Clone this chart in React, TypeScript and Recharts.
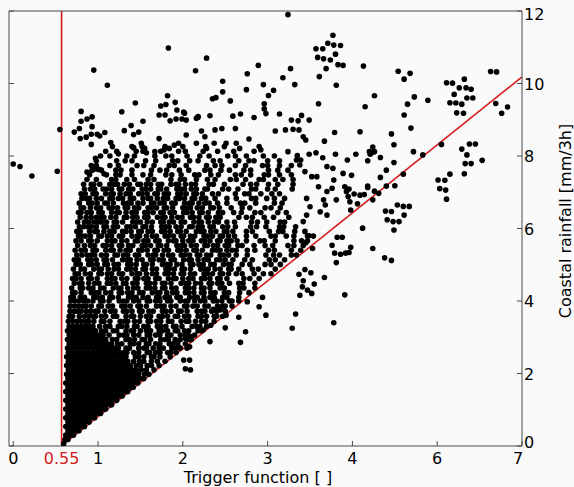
import React from 'react';
import { ScatterChart, Scatter, XAxis, YAxis, ReferenceLine, Label } from 'recharts';

type Row = [number, number[]];

const X_TICKS = [0, 0.57, 1, 2, 3, 4, 5, 6];
const X_TICK_LABELS = ['0', '0.55', '1', '2', '3', '4', '6', '7'];
const X_FRAME_TICKS = [0, 1, 2, 3, 4, 5, 6];
const Y_TICKS = [0, 2, 4, 6, 8, 10, 12];
const THRESHOLD_X = 0.57;
const TREND_END: [number, number] = [6, 10.18];
const X_LABEL = 'Trigger function [ ]';
const Y_LABEL = 'Coastal rainfall [mm/3h]';

// saturated wedge near the apex: [rainfall, trigger values...]
const apexRows: Row[] = [
  [0.06, [0.595]],
  [0.18, [0.61, 0.645]],
  [0.3, [0.62, 0.67, 0.71]],
  [0.42, [0.645, 0.695, 0.745, 0.775]],
  [0.54, [0.62, 0.67, 0.72, 0.77, 0.82, 0.84]],
  [0.66, [0.645, 0.695, 0.745, 0.795, 0.845, 0.895]],
  [0.78, [0.62, 0.67, 0.72, 0.77, 0.82, 0.87, 0.92, 0.96]],
  [0.9, [0.645, 0.695, 0.745, 0.795, 0.845, 0.895, 0.945, 0.995, 1.03]],
  [1.02, [0.62, 0.67, 0.72, 0.77, 0.82, 0.87, 0.92, 0.97, 1.02, 1.07, 1.09]],
  [1.14, [0.645, 0.695, 0.745, 0.795, 0.845, 0.895, 0.945, 0.995, 1.045, 1.095, 1.145, 1.16]],
  [1.26, [0.62, 0.67, 0.72, 0.77, 0.82, 0.87, 0.92, 0.97, 1.02, 1.07, 1.12, 1.17, 1.22]],
  [1.38, [0.645, 0.695, 0.745, 0.795, 0.845, 0.895, 0.945, 0.995, 1.045, 1.095, 1.145, 1.195, 1.245, 1.285]],
  [1.5, [0.62, 0.67, 0.72, 0.77, 0.82, 0.87, 0.92, 0.97, 1.02, 1.07, 1.12, 1.17, 1.22, 1.27, 1.32, 1.35]],
  [1.62, [0.645, 0.695, 0.745, 0.795, 0.845, 0.895, 0.945, 0.995, 1.045, 1.095, 1.145, 1.195, 1.245, 1.295, 1.345, 1.395, 1.415]],
  [1.74, [0.62, 0.67, 0.72, 0.77, 0.82, 0.87, 0.92, 0.97, 1.02, 1.07, 1.12, 1.17, 1.22, 1.27, 1.32, 1.37, 1.42, 1.47]],
  [1.86, [0.645, 0.695, 0.745, 0.795, 0.845, 0.895, 0.945, 0.995, 1.045, 1.095, 1.145, 1.195, 1.245, 1.295, 1.345, 1.395, 1.445, 1.495, 1.54]],
  [1.98, [0.63, 0.68, 0.73, 0.78, 0.83, 0.88, 0.93, 0.98, 1.03, 1.08, 1.13, 1.18, 1.23, 1.28, 1.33, 1.38, 1.43, 1.48, 1.55, 1.6]],
  [2.1, [0.65, 0.7, 0.75, 0.8, 0.85, 0.9, 0.95, 1.0, 1.05, 1.1, 1.15, 1.2, 1.25, 1.3, 1.35, 1.4, 1.45, 1.51, 1.57, 1.66]],
  [2.22, [0.63, 0.68, 0.73, 0.78, 0.83, 0.88, 0.93, 0.98, 1.03, 1.08, 1.13, 1.18, 1.23, 1.28, 1.33, 1.38, 1.45, 1.5, 1.58, 1.63, 1.72]],
  [2.34, [0.65, 0.7, 0.75, 0.8, 0.85, 0.9, 0.95, 1.0, 1.05, 1.1, 1.15, 1.2, 1.25, 1.3, 1.35, 1.42, 1.49, 1.54, 1.63, 1.7, 1.79]],
];

// dense band between rainfall 2.5 and 4
const bandRows: Row[] = [
  [2.46, [0.63, 0.68, 0.73, 0.78, 0.83, 0.88, 0.93, 0.98, 1.03, 1.08, 1.13, 1.18, 1.23, 1.28, 1.33, 1.44, 1.48, 1.54, 1.63, 1.66, 1.73, 1.85]],
  [2.58, [0.65, 0.7, 0.75, 0.8, 0.85, 0.9, 0.95, 1.0, 1.05, 1.1, 1.15, 1.2, 1.25, 1.3, 1.34, 1.42, 1.48, 1.58, 1.61, 1.68, 1.73, 1.82, 1.86, 1.92]],
  [2.7, [0.64, 0.69, 0.74, 0.79, 0.84, 0.89, 0.94, 0.99, 1.04, 1.09, 1.14, 1.19, 1.24, 1.33, 1.37, 1.48, 1.54, 1.57, 1.65, 1.72, 1.77, 1.87, 1.91, 1.97]],
  [2.82, [0.66, 0.71, 0.76, 0.81, 0.86, 0.91, 0.96, 1.01, 1.06, 1.11, 1.16, 1.23, 1.28, 1.38, 1.42, 1.48, 1.57, 1.6, 1.68, 1.73, 1.84, 1.88, 1.94, 2.03]],
  [2.94, [0.64, 0.69, 0.74, 0.79, 0.84, 0.89, 0.94, 0.99, 1.04, 1.09, 1.17, 1.22, 1.33, 1.37, 1.43, 1.52, 1.55, 1.62, 1.74, 1.79, 1.83, 1.91, 1.97, 2.07, 2.1]],
  [3.06, [0.66, 0.71, 0.76, 0.81, 0.86, 0.91, 0.96, 1.01, 1.06, 1.13, 1.25, 1.3, 1.34, 1.42, 1.48, 1.58, 1.61, 1.68, 1.73, 1.82, 1.86, 1.97, 2.03, 2.06, 2.14]],
  [3.18, [0.64, 0.69, 0.74, 0.79, 0.84, 0.89, 0.94, 0.97, 1.04, 1.09, 1.18, 1.22, 1.33, 1.39, 1.42, 1.5, 1.57, 1.62, 1.72, 1.76, 1.82, 1.91, 1.94, 2.02, 2.07, 2.18, 2.22]],
  [3.3, [0.66, 0.71, 0.76, 0.81, 0.86, 0.91, 0.94, 1.02, 1.09, 1.14, 1.24, 1.28, 1.34, 1.43, 1.46, 1.54, 1.59, 1.7, 1.74, 1.8, 1.89, 1.92, 1.99, 2.11, 2.16, 2.2, 2.28]],
  [3.44, [0.65, 0.7, 0.75, 0.8, 0.85, 0.89, 0.95, 1.04, 1.07, 1.14, 1.26, 1.31, 1.35, 1.43, 1.49, 1.59, 1.62, 1.69, 1.74, 1.83, 1.87, 1.98, 2.04, 2.07, 2.15, 2.22, 2.27, 2.37]],
  [3.58, [0.66, 0.7, 0.78, 0.84, 0.89, 0.94, 0.97, 1.04, 1.09, 1.18, 1.22, 1.33, 1.39, 1.42, 1.5, 1.57, 1.62, 1.72, 1.76, 1.82, 1.91, 1.94, 2.02, 2.07, 2.18, 2.22, 2.28, 2.37, 2.4, 2.47]],
  [3.72, [0.67, 0.72, 0.76, 0.8, 0.86, 0.91, 0.97, 1.0, 1.08, 1.15, 1.2, 1.3, 1.34, 1.4, 1.49, 1.52, 1.6, 1.65, 1.76, 1.8, 1.86, 1.95, 1.98, 2.05, 2.17, 2.22, 2.26, 2.34, 2.4, 2.5]],
  [3.86, [0.67, 0.72, 0.77, 0.82, 0.86, 0.92, 1.01, 1.04, 1.12, 1.17, 1.28, 1.32, 1.38, 1.47, 1.5, 1.57, 1.69, 1.74, 1.78, 1.86, 1.92, 2.02, 2.05, 2.12, 2.17, 2.26, 2.3, 2.41, 2.47, 2.5, 2.58]],
  [4.0, [0.68, 0.73, 0.78, 0.84, 0.88, 0.94, 1.03, 1.06, 1.13, 1.25, 1.3, 1.34, 1.42, 1.48, 1.58, 1.61, 1.68, 1.73, 1.82, 1.86, 1.97, 2.03, 2.06, 2.14, 2.21, 2.26, 2.36, 2.4, 2.46, 2.55, 2.58, 2.66]],
];

// main cloud between rainfall 4 and 8.3
const coreRows: Row[] = [
  [4.1, [0.68, 0.71, 0.79, 0.84, 0.95, 0.99, 1.05, 1.14, 1.17, 1.24, 1.36, 1.41, 1.45, 1.53, 1.59, 1.69, 1.72, 1.79, 1.84, 1.93, 1.97, 2.08, 2.14, 2.17, 2.25, 2.32, 2.37, 2.47, 2.52, 2.66]],
  [4.23, [0.7, 0.73, 0.8, 0.92, 0.97, 1.01, 1.09, 1.15, 1.25, 1.28, 1.35, 1.4, 1.49, 1.53, 1.64, 1.7, 1.73, 1.81, 1.88, 1.93, 2.03, 2.07, 2.13, 2.22, 2.25, 2.33, 2.38, 2.49, 2.54, 2.67, 2.78]],
  [4.36, [0.69, 0.79, 0.82, 0.89, 0.94, 1.03, 1.07, 1.18, 1.24, 1.27, 1.35, 1.42, 1.47, 1.57, 1.61, 1.67, 1.76, 1.79, 1.87, 1.92, 2.03, 2.07, 2.13, 2.22, 2.25, 2.32, 2.44, 2.49, 2.67, 2.72, 2.85]],
  [4.49, [0.72, 0.78, 0.81, 0.89, 0.96, 1.01, 1.11, 1.15, 1.21, 1.3, 1.33, 1.41, 1.46, 1.57, 1.61, 1.67, 1.76, 1.79, 1.86, 1.98, 2.03, 2.07, 2.15, 2.21, 2.31, 2.34, 2.41, 2.46, 2.55, 2.66, 2.71, 2.85]],
  [4.62, [0.7, 0.74, 0.8, 0.89, 0.92, 0.99, 1.11, 1.16, 1.2, 1.28, 1.34, 1.44, 1.47, 1.54, 1.59, 1.68, 1.72, 1.83, 1.89, 1.92, 2.0, 2.07, 2.12, 2.22, 2.26, 2.32, 2.41, 2.44, 2.52, 2.72, 2.79, 2.9]],
  [4.75, [0.73, 0.77, 0.85, 0.91, 1.01, 1.04, 1.11, 1.16, 1.25, 1.29, 1.4, 1.46, 1.49, 1.57, 1.64, 1.69, 1.79, 1.83, 1.89, 1.98, 2.01, 2.09, 2.14, 2.25, 2.29, 2.35, 2.44, 2.47, 2.54, 2.63, 2.7, 2.84, 2.95, 3.04]],
  [4.88, [0.71, 0.8, 0.84, 0.95, 1.01, 1.04, 1.12, 1.19, 1.24, 1.34, 1.38, 1.44, 1.53, 1.56, 1.64, 1.69, 1.8, 1.84, 1.9, 1.99, 2.02, 2.09, 2.21, 2.26, 2.3, 2.38, 2.44, 2.54, 2.57, 2.66, 2.82, 2.89, 3.09]],
  [5.01, [0.74, 0.79, 0.89, 0.93, 0.99, 1.08, 1.11, 1.19, 1.24, 1.35, 1.39, 1.45, 1.54, 1.57, 1.64, 1.76, 1.81, 1.85, 1.93, 1.99, 2.09, 2.12, 2.19, 2.24, 2.33, 2.37, 2.48, 2.54, 2.57, 2.7, 2.79, 2.97, 3.04, 3.15]],
  [5.14, [0.72, 0.77, 0.88, 0.92, 0.98, 1.07, 1.1, 1.17, 1.29, 1.34, 1.38, 1.46, 1.52, 1.62, 1.65, 1.72, 1.77, 1.86, 1.9, 2.01, 2.07, 2.1, 2.18, 2.25, 2.3, 2.4, 2.44, 2.5, 2.59, 2.73, 2.82, 3.02, 3.09, 3.2]],
  [5.27, [0.75, 0.81, 0.87, 0.92, 0.96, 1.04, 1.1, 1.2, 1.23, 1.3, 1.35, 1.44, 1.48, 1.59, 1.65, 1.68, 1.76, 1.83, 1.88, 1.98, 2.02, 2.08, 2.17, 2.2, 2.28, 2.33, 2.44, 2.48, 2.54, 2.63, 2.76, 2.98, 3.07, 3.14, 3.28, 3.34]],
  [5.4, [0.73, 0.8, 0.85, 0.94, 0.98, 1.09, 1.15, 1.18, 1.26, 1.33, 1.38, 1.48, 1.52, 1.58, 1.67, 1.7, 1.78, 1.83, 1.94, 1.98, 2.04, 2.13, 2.16, 2.23, 2.35, 2.4, 2.44, 2.52, 2.58, 2.63, 2.76, 2.85, 3.01, 3.08, 3.28, 3.39]],
  [5.53, [0.76, 0.84, 0.91, 0.96, 1.06, 1.1, 1.16, 1.25, 1.28, 1.36, 1.41, 1.52, 1.56, 1.62, 1.71, 1.74, 1.81, 1.93, 1.98, 2.02, 2.1, 2.16, 2.26, 2.29, 2.36, 2.41, 2.5, 2.54, 2.65, 2.7, 2.84, 2.97, 3.06, 3.24, 3.31, 3.42]],
  [5.66, [0.74, 0.8, 0.89, 0.92, 0.99, 1.11, 1.16, 1.2, 1.28, 1.34, 1.44, 1.47, 1.54, 1.59, 1.68, 1.72, 1.83, 1.89, 1.92, 2.0, 2.07, 2.12, 2.22, 2.26, 2.32, 2.41, 2.44, 2.52, 2.57, 2.64, 2.75, 2.91, 2.96, 3.09, 3.31, 3.4, 3.47]],
  [5.79, [0.77, 0.81, 0.85, 0.91, 1.01, 1.04, 1.11, 1.16, 1.25, 1.29, 1.4, 1.46, 1.49, 1.57, 1.64, 1.69, 1.79, 1.83, 1.89, 1.98, 2.01, 2.09, 2.14, 2.25, 2.29, 2.35, 2.44, 2.47, 2.54, 2.61, 2.75, 2.86, 3.04, 3.09, 3.22, 3.31, 3.47, 3.54]],
  [5.92, [0.75, 0.79, 0.9, 0.96, 0.99, 1.07, 1.14, 1.19, 1.29, 1.33, 1.39, 1.48, 1.51, 1.59, 1.64, 1.75, 1.79, 1.85, 1.94, 1.97, 2.04, 2.16, 2.21, 2.25, 2.33, 2.39, 2.49, 2.52, 2.59, 2.75, 2.82, 3.02, 3.13, 3.18, 3.32, 3.44]],
  [6.05, [0.78, 0.83, 0.88, 0.92, 0.98, 1.07, 1.1, 1.18, 1.23, 1.34, 1.38, 1.44, 1.53, 1.56, 1.63, 1.75, 1.8, 1.84, 1.92, 1.98, 2.08, 2.11, 2.18, 2.23, 2.32, 2.36, 2.47, 2.53, 2.62, 2.8, 2.87, 2.98, 3.14, 3.19, 3.33]],
  [6.18, [0.76, 0.84, 0.89, 0.95, 1.0, 1.04, 1.1, 1.19, 1.22, 1.29, 1.41, 1.46, 1.5, 1.58, 1.64, 1.74, 1.77, 1.84, 1.89, 1.98, 2.02, 2.13, 2.19, 2.22, 2.3, 2.37, 2.42, 2.52, 2.61, 2.81, 2.88, 2.99, 3.15, 3.2]],
  [6.31, [0.79, 0.86, 0.92, 0.98, 1.03, 1.07, 1.15, 1.21, 1.31, 1.34, 1.41, 1.46, 1.55, 1.59, 1.7, 1.76, 1.79, 1.87, 1.94, 1.99, 2.09, 2.13, 2.19, 2.28, 2.31, 2.39, 2.44, 2.66, 2.75, 2.82, 2.96, 3.07, 3.25]],
  [6.44, [0.77, 0.8, 0.87, 0.92, 1.01, 1.05, 1.16, 1.22, 1.25, 1.33, 1.4, 1.45, 1.55, 1.59, 1.65, 1.74, 1.77, 1.85, 1.9, 2.01, 2.05, 2.11, 2.2, 2.23, 2.3, 2.42, 2.47, 2.6, 2.69, 2.85, 2.92, 3.12, 3.22]],
  [6.57, [0.8, 0.83, 0.91, 0.98, 1.03, 1.13, 1.17, 1.23, 1.32, 1.35, 1.43, 1.48, 1.59, 1.63, 1.69, 1.78, 1.81, 1.88, 2.0, 2.05, 2.09, 2.17, 2.23, 2.33, 2.36, 2.43, 2.57, 2.7, 2.79, 2.97, 3.04, 3.15]],
  [6.7, [0.78, 0.89, 0.93, 0.99, 1.08, 1.11, 1.18, 1.3, 1.35, 1.39, 1.47, 1.53, 1.63, 1.66, 1.73, 1.78, 1.87, 1.91, 2.02, 2.08, 2.11, 2.19, 2.26, 2.31, 2.41, 2.52, 2.68, 2.73, 2.86, 3.08, 3.17]],
  [6.83, [0.81, 0.86, 0.9, 0.98, 1.04, 1.14, 1.17, 1.24, 1.29, 1.38, 1.42, 1.53, 1.59, 1.62, 1.7, 1.77, 1.82, 1.92, 1.96, 2.02, 2.11, 2.14, 2.22, 2.27, 2.38, 2.52, 2.63, 2.81, 2.86, 2.99, 3.08, 3.2]],
  [6.96, [0.8, 0.85, 0.94, 0.98, 1.09, 1.15, 1.18, 1.26, 1.33, 1.38, 1.48, 1.52, 1.58, 1.67, 1.7, 1.78, 1.83, 1.94, 1.98, 2.04, 2.13, 2.16, 2.23, 2.35, 2.42, 2.62, 2.73, 2.78, 2.92, 3.05, 3.14]],
  [7.09, [0.84, 0.91, 0.96, 1.06, 1.1, 1.16, 1.25, 1.28, 1.36, 1.41, 1.52, 1.56, 1.62, 1.71, 1.74, 1.81, 1.93, 1.98, 2.02, 2.1, 2.16, 2.26, 2.29, 2.47, 2.54, 2.65, 2.81, 2.86, 3.0, 3.09, 3.29]],
  [7.22, [0.83, 0.92, 0.95, 1.02, 1.14, 1.19, 1.23, 1.31, 1.37, 1.47, 1.5, 1.57, 1.62, 1.71, 1.75, 1.86, 1.92, 1.95, 2.03, 2.1, 2.15, 2.31, 2.36, 2.49, 2.71, 2.8, 2.87, 3.01, 3.12, 3.3]],
  [7.35, [0.87, 0.98, 1.16, 1.21, 1.34, 1.43, 1.59, 1.66, 1.86, 1.97, 2.02, 2.16, 2.29, 2.38, 2.56, 2.63, 2.74, 2.9, 2.95, 3.09, 3.18, 3.3]],
  [7.48, [0.9, 1.1, 1.21, 1.26, 1.4, 1.53, 1.62, 1.8, 1.87, 1.98, 2.14, 2.19, 2.33, 2.42, 2.62, 2.69, 2.8, 2.96, 3.01, 3.14, 3.28]],
  [7.61, [0.93, 1.04, 1.21, 1.27, 1.4, 1.63, 1.73, 1.81, 1.96, 2.07, 2.26, 2.32, 2.45, 2.55, 2.72, 2.8, 3.01, 3.12, 3.24]],
  [7.74, [0.92, 0.98, 1.14, 1.24, 1.46, 1.54, 1.66, 1.84, 1.9, 2.04, 2.28, 2.38, 2.46, 2.62, 2.74, 2.94, 3.0, 3.14, 3.28]],
  [7.87, [0.98, 1.22, 1.32, 1.4, 1.56, 1.68, 1.88, 1.94, 2.08, 2.18, 2.36, 2.44, 2.66, 2.78, 2.84, 3.0, 3.14]],
  [8.0, [1.03, 1.14, 1.34, 1.43, 1.67, 1.8, 1.87, 2.05, 2.2, 2.31, 2.53, 2.62, 2.75, 2.95, 3.08]],
  [8.13, [1.09, 1.22, 1.45, 1.53, 1.74, 1.95, 2.03, 2.24, 2.41, 2.6, 2.84]],
  [8.26, [1.17, 1.4, 1.52, 1.79, 2.0, 2.27, 2.49]],
];

// scattered points: [trigger, rainfall]
const upperLeftPoints: [number, number][] = [
  [0.0, 7.78], [0.08, 7.71], [0.22, 7.45], [0.52, 7.58], [0.55, 8.73],
  [1.83, 10.98], [0.95, 10.37], [2.15, 10.35], [1.11, 9.95], [1.82, 9.66], [1.44, 9.46], [1.74, 9.38],
  [1.8, 9.42], [1.91, 9.48], [0.8, 9.23], [1.28, 9.22], [1.72, 9.13], [1.79, 9.13], [1.93, 9.27],
  [2.01, 9.21], [0.8, 8.96], [0.87, 9.02], [0.93, 9.08], [1.85, 8.97], [1.92, 9.02], [1.99, 9.02],
  [2.18, 9.07], [1.53, 8.96], [1.39, 8.84], [0.78, 8.76], [0.93, 8.81], [0.72, 8.66], [1.42, 8.59],
  [1.48, 8.66], [1.31, 8.7], [0.86, 8.52], [0.92, 8.6], [0.99, 8.6], [1.02, 8.55], [1.08, 8.65],
  [0.79, 8.48], [0.92, 8.32], [1.15, 8.37], [1.72, 8.48], [2.04, 8.58], [1.51, 8.35], [1.55, 8.21],
  [1.42, 8.23], [1.95, 8.35], [1.9, 8.3], [1.84, 8.21], [1.78, 8.17], [1.57, 8.09], [1.67, 8.12],
  [1.24, 8.06], [0.97, 7.94], [0.87, 7.56], [0.97, 7.64], [1.01, 7.63], [1.07, 7.51],
];

const upperMiddlePoints: [number, number][] = [
  [3.24, 11.9], [3.77, 11.33], [3.71, 11.11], [3.78, 11.06], [3.86, 11.05], [3.57, 10.96], [3.65, 10.96],
  [3.8, 10.81], [3.59, 10.72], [3.66, 10.68], [3.74, 10.65], [3.83, 10.52], [3.89, 10.5], [3.69, 10.41],
  [3.61, 10.19], [3.81, 9.95], [3.6, 9.44], [2.28, 10.7], [2.89, 10.5], [2.76, 10.27], [3.27, 10.41],
  [3.18, 10.16], [3.32, 9.97], [2.47, 10.06], [2.47, 9.77], [2.75, 9.83], [2.95, 9.97], [3.07, 9.81],
  [3.01, 9.67], [2.35, 9.58], [2.39, 9.61], [2.56, 9.52], [2.96, 9.44], [2.96, 9.3], [2.98, 9.17],
  [3.14, 9.16], [3.4, 9.12], [2.02, 9.18], [2.18, 9.09], [2.32, 9.11], [2.59, 9.1], [2.68, 9.16],
  [2.04, 8.99], [2.16, 9.04], [2.84, 9.06], [3.28, 8.99], [3.36, 8.97], [3.49, 8.99], [2.22, 8.69],
  [2.26, 8.53], [2.38, 8.72], [2.46, 8.76], [2.62, 8.76], [2.78, 8.47], [3.09, 8.69], [3.21, 8.72],
  [3.3, 8.74], [3.37, 8.72], [3.42, 8.53], [3.45, 8.44], [3.67, 8.41], [3.79, 8.65], [2.16, 8.35],
  [2.28, 8.21], [2.37, 8.35], [2.51, 8.35], [2.63, 8.35], [2.67, 8.21], [2.9, 8.26], [2.92, 8.17],
  [3.24, 8.12], [3.35, 8.01], [3.39, 7.89], [3.49, 8.05], [3.57, 8.09], [3.65, 7.95], [3.8, 8.05],
  [3.94, 7.89], [3.7, 7.71], [3.77, 7.66], [3.89, 7.52], [3.78, 7.34], [3.58, 7.43], [3.6, 7.15],
  [3.7, 7.02], [3.76, 7.11], [3.91, 7.15], [3.93, 7.02], [3.95, 6.88], [3.66, 6.79], [3.68, 6.65],
  [3.81, 6.79], [3.97, 6.74], [3.46, 6.83], [3.5, 6.6], [3.62, 6.46], [3.7, 6.37], [3.46, 6.37],
  [3.42, 6.19], [3.34, 7.89], [3.38, 7.75], [3.44, 7.57], [3.52, 7.43],
];

const rightPoints: [number, number][] = [
  [4.13, 10.48], [4.54, 10.34], [4.68, 10.28], [4.61, 10.12], [4.26, 9.66], [4.15, 9.36], [4.73, 9.63],
  [4.89, 9.54], [4.65, 9.43], [4.61, 9.13], [5.11, 10.02], [5.18, 10.01], [5.32, 10.12], [5.26, 9.88],
  [5.34, 9.88], [5.4, 9.84], [5.2, 9.7], [5.35, 9.6], [5.42, 9.6], [5.15, 9.47], [5.22, 9.46],
  [5.29, 9.43], [5.23, 9.19], [5.31, 9.18], [5.63, 10.33], [5.7, 10.32], [5.69, 9.45], [5.83, 9.35],
  [5.76, 9.18], [4.09, 8.67], [4.69, 8.77], [4.46, 8.61], [4.49, 8.31], [4.24, 8.25], [4.2, 8.12],
  [4.23, 8.1], [4.26, 8.12], [4.21, 8.05], [4.04, 8.05], [4.33, 7.96], [4.18, 7.87], [4.72, 8.12],
  [4.83, 8.03], [5.05, 8.32], [4.49, 7.82], [4.4, 7.61], [3.99, 7.47], [4.33, 7.41], [4.6, 7.5],
  [4.18, 7.17], [4.18, 7.13], [4.4, 7.17], [4.5, 7.18], [3.96, 7.09], [4.02, 6.95], [4.09, 6.92],
  [4.14, 6.94], [4.26, 7.03], [4.31, 6.97], [4.24, 6.79], [4.06, 6.68], [3.98, 6.51], [4.39, 6.48],
  [4.46, 6.47], [4.53, 6.65], [4.6, 6.61], [4.67, 6.61], [4.61, 6.37], [4.41, 6.24], [4.48, 6.19],
  [4.55, 6.19], [5.01, 7.34], [5.09, 7.33], [5.15, 7.5], [5.03, 7.1], [5.1, 7.06], [5.11, 6.81],
  [5.29, 8.19], [5.38, 8.33], [5.45, 8.33], [5.35, 8.03], [5.33, 7.79], [5.4, 7.79], [5.53, 7.88],
  [5.32, 7.51], [4.49, 5.96], [4.12, 6.01], [3.98, 5.48], [3.96, 5.34], [4.24, 5.45], [4.38, 5.19],
  [4.46, 5.12],
];

const belowLinePoints: [number, number][] = [
  [3.82, 5.76], [3.88, 5.76], [3.76, 5.54], [3.79, 5.32], [3.86, 5.29], [3.92, 5.32], [3.81, 5.06],
  [3.53, 5.45], [3.45, 5.61], [3.49, 5.8], [3.67, 4.65], [3.37, 4.74], [3.44, 4.87], [3.51, 4.78],
  [3.42, 4.56], [3.55, 4.47], [3.41, 4.39], [3.47, 4.3], [3.52, 4.21], [3.91, 4.17], [3.38, 4.16],
  [3.33, 3.64], [3.78, 3.4], [3.29, 3.25], [2.98, 3.61], [2.9, 3.84], [2.94, 4.1], [2.76, 3.98],
  [2.66, 3.55], [2.74, 3.15], [2.5, 3.26], [2.51, 3.61], [2.44, 3.75], [2.36, 3.77], [2.33, 3.33],
  [2.24, 3.2], [2.32, 2.88], [2.68, 2.86], [2.01, 2.37], [2.08, 2.37], [2.03, 2.13], [2.09, 2.1],
  [2.03, 2.97], [2.1, 3.02], [1.96, 2.71], [2.05, 2.7], [2.08, 2.74],
];

const points = [...apexRows, ...bandRows, ...coreRows]
  .flatMap(([y, xs]) => xs.map((x) => ({ x, y })))
  .concat(
    [...upperLeftPoints, ...upperMiddlePoints, ...rightPoints, ...belowLinePoints].map(([x, y]) => ({ x, y }))
  );

const BG = '#fafafa';
const AX = '#4a4a4a';
const RED = '#d41a1a';
const FONT = 'DejaVu Sans, Verdana, sans-serif';

function BottomTick(props: any) {
  const { x, y, payload } = props;
  const i = X_TICKS.indexOf(payload.value);
  const isThr = payload.value === THRESHOLD_X;
  const shift = i === X_TICKS.length - 1 ? -4 : 0;
  return (
    <g>
      {!isThr && <line x1={x} x2={x} y1={y} y2={y - 5} stroke={AX} strokeWidth={1} />}
      <text x={x + shift} y={y + 18} textAnchor="middle" fontSize={16} fontFamily={FONT} fill={isThr ? RED : '#000'}>
        {X_TICK_LABELS[i]}
      </text>
    </g>
  );
}

function TopTick(props: any) {
  const { x, y } = props;
  return <line x1={x} x2={x} y1={y} y2={y + 5} stroke={AX} strokeWidth={1} />;
}

function RightTick(props: any) {
  const { x, y, payload } = props;
  const v = payload.value;
  const dy = v === 12 ? 3 : v === 0 ? -4 : 0;
  return (
    <g>
      <line x1={x} x2={x - 5} y1={y} y2={y} stroke={AX} strokeWidth={1} />
      <text x={x + 2} y={y + 6 + dy} textAnchor="start" fontSize={16} fontFamily={FONT} fill="#000">
        {v}
      </text>
    </g>
  );
}

function LeftTick(props: any) {
  const { x, y } = props;
  return <line x1={x} x2={x + 5} y1={y} y2={y} stroke={AX} strokeWidth={1} />;
}

const renderDot = (p: any) => <circle cx={p.cx} cy={p.cy} r={2.8} fill="#000" />;

export default function App() {
  return (
    <div style={{ width: 574, height: 487, background: BG }}>
      <style>{`body{margin:0;background:${BG};}`}</style>
      <ScatterChart width={574} height={487} margin={{ top: 0, right: 0, bottom: 0, left: 0 }} style={{ background: BG }}>
        <XAxis
          xAxisId="b"
          type="number"
          dataKey="x"
          domain={[-0.05, 6]}
          allowDataOverflow
          ticks={X_TICKS}
          interval={0}
          height={41}
          tickSize={0}
          tickMargin={0}
          tickLine={false}
          axisLine={{ stroke: AX }}
          tick={<BottomTick />}
        >
          <Label
            content={() => (
              <text x={258} y={483} textAnchor="middle" fontSize={16} fontFamily={FONT} fill="#000">
                {X_LABEL}
              </text>
            )}
          />
        </XAxis>
        <XAxis
          xAxisId="t"
          orientation="top"
          type="number"
          domain={[-0.05, 6]}
          allowDataOverflow
          ticks={X_FRAME_TICKS}
          interval={0}
          height={11}
          tickSize={0}
          tickMargin={0}
          tickLine={false}
          axisLine={{ stroke: AX }}
          tick={<TopTick />}
        />
        <YAxis
          yAxisId="r"
          orientation="right"
          type="number"
          dataKey="y"
          domain={[0, 12]}
          allowDataOverflow
          ticks={Y_TICKS}
          interval={0}
          width={52}
          tickSize={0}
          tickMargin={0}
          tickLine={false}
          axisLine={{ stroke: AX }}
          tick={<RightTick />}
        >
          <Label
            content={() => (
              <text
                x={565}
                y={221}
                transform="rotate(-90 565 221)"
                textAnchor="middle"
                dominantBaseline="central"
                fontSize={16}
                fontFamily={FONT}
                fill="#000"
              >
                {Y_LABEL}
              </text>
            )}
          />
        </YAxis>
        <YAxis
          yAxisId="l"
          orientation="left"
          type="number"
          domain={[0, 12]}
          allowDataOverflow
          ticks={Y_TICKS}
          interval={0}
          width={9}
          tickSize={0}
          tickMargin={0}
          tickLine={false}
          axisLine={{ stroke: AX }}
          tick={<LeftTick />}
        />
        <Scatter xAxisId="b" yAxisId="r" data={points} fill="#000" shape={renderDot} isAnimationActive={false} />
        <ReferenceLine xAxisId="b" yAxisId="r" x={THRESHOLD_X} stroke={RED} strokeWidth={1.6} />
        <ReferenceLine
          xAxisId="b"
          yAxisId="r"
          segment={[
            { x: THRESHOLD_X, y: 0 },
            { x: TREND_END[0], y: TREND_END[1] },
          ]}
          stroke={RED}
          strokeWidth={1.6}
        />
      </ScatterChart>
    </div>
  );
}
